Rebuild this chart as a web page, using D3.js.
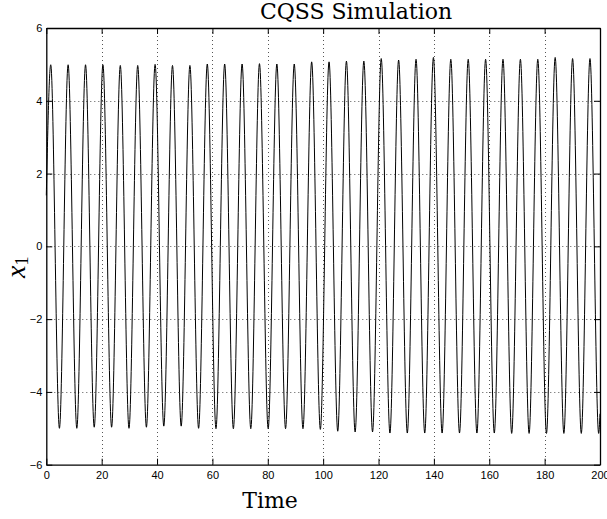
<!DOCTYPE html>
<html>
<head>
<meta charset="utf-8">
<script src="https://cdn.jsdelivr.net/npm/d3@7"></script>
<style>
  body { margin: 0; background: #fff; }
  svg { display: block; }
</style>
</head>
<body>
<svg id="chart"></svg>
<script>
// values
const startPoint = [0, 1.4];
const endPoint = [200, -4.6];

const peakTimes = [1.6, 7.88, 14.17, 20.45, 26.73, 33.02, 39.3, 45.58, 51.87, 58.15, 64.43,
  70.72, 77.0, 83.28, 89.56, 95.85, 102.13, 108.41, 114.7, 120.98, 127.26, 133.55,
  139.83, 146.11, 152.4, 158.68, 164.96, 171.25, 177.53, 183.81, 190.1, 196.38];
const peakValues = [4.99, 4.99, 4.99, 4.99, 4.97, 4.97, 5.0, 4.97, 4.97, 5.01, 5.01,
  5.01, 5.02, 5.01, 5.01, 5.07, 5.07, 5.09, 5.09, 5.16, 5.12, 5.14,
  5.19, 5.14, 5.14, 5.14, 5.14, 5.14, 5.14, 5.19, 5.16, 5.16];

const troughTimes = [4.74, 11.02, 17.31, 23.59, 29.87, 36.16, 42.44, 48.72, 55.01, 61.29, 67.57,
  73.86, 80.14, 86.42, 92.71, 98.99, 105.27, 111.55, 117.84, 124.12, 130.4, 136.69,
  142.97, 149.25, 155.54, 161.82, 168.1, 174.39, 180.67, 186.95, 193.24, 199.52];
const troughValues = [-5.0, -5.0, -4.97, -4.97, -5.0, -4.97, -4.94, -4.94, -5.0, -5.01, -5.01,
  -5.01, -5.01, -5.01, -5.01, -5.03, -5.08, -5.1, -5.1, -5.13, -5.13, -5.13,
  -5.13, -5.13, -5.13, -5.13, -5.14, -5.14, -5.14, -5.14, -5.14, -5.14];

const xTicks = [0, 20, 40, 60, 80, 100, 120, 140, 160, 180, 200];
const yTicks = [-6, -4, -2, 0, 2, 4, 6];

const W = 607, H = 519;
const margin = { left: 46.3, right: 7, top: 28, bottom: 54.3 };

const svg = d3.select('#chart')
  .attr('width', W)
  .attr('height', H);

const x = d3.scaleLinear().domain([0, 200]).range([margin.left, W - margin.right]);
const y = d3.scaleLinear().domain([-6, 6]).range([H - margin.bottom, margin.top]);

// build the point list from the extrema
let pts = [startPoint];
peakTimes.forEach((t, i) => pts.push([t, peakValues[i]]));
troughTimes.forEach((t, i) => pts.push([t, troughValues[i]]));
pts.push(endPoint);
pts.sort((a, b) => a[0] - b[0]);

// grid
const grid = svg.append('g').attr('stroke', '#555').attr('stroke-width', 1)
  .attr('stroke-dasharray', '1,3');
grid.selectAll('.vg')
  .data(xTicks.slice(1, -1))
  .enter().append('line')
  .attr('x1', d => Math.round(x(d)) + 0.5).attr('x2', d => Math.round(x(d)) + 0.5)
  .attr('y1', y(6)).attr('y2', y(-6));
grid.selectAll('.hg')
  .data(yTicks.slice(1, -1))
  .enter().append('line')
  .attr('x1', x(0)).attr('x2', x(200))
  .attr('y1', d => Math.round(y(d)) + 0.5).attr('y2', d => Math.round(y(d)) + 0.5);

// signal
svg.append('path')
  .datum(pts)
  .attr('fill', 'none')
  .attr('stroke', '#000')
  .attr('stroke-width', 1)
  .attr('d', d3.line().x(d => x(d[0])).y(d => y(d[1])).curve(d3.curveMonotoneX));

// axes, ticks inside on all four sides
const tickLen = 6;
const fmt = d => d < 0 ? '\u2212' + Math.abs(d) : String(d);

const axBottom = svg.append('g').attr('transform', `translate(0,${y(-6)})`)
  .call(d3.axisBottom(x).tickValues(xTicks).tickSizeInner(-tickLen).tickSizeOuter(0).tickPadding(7).tickFormat(fmt));
const axTop = svg.append('g').attr('transform', `translate(0,${y(6)})`)
  .call(d3.axisTop(x).tickValues(xTicks).tickSizeInner(-tickLen).tickSizeOuter(0).tickFormat(''));
const axLeft = svg.append('g').attr('transform', `translate(${x(0)},0)`)
  .call(d3.axisLeft(y).tickValues(yTicks).tickSizeInner(-tickLen).tickSizeOuter(0).tickPadding(4).tickFormat(fmt));
const axRight = svg.append('g').attr('transform', `translate(${x(200)},0)`)
  .call(d3.axisRight(y).tickValues(yTicks).tickSizeInner(-tickLen).tickSizeOuter(0).tickFormat(''));

[axBottom, axTop, axLeft, axRight].forEach(g => {
  g.select('.domain').attr('stroke', '#000').attr('stroke-width', 1.3);
  g.selectAll('.tick line').attr('stroke', '#000').attr('stroke-width', 1);
  g.selectAll('text').attr('fill', '#000')
    .attr('font-family', 'Liberation Sans, Arial, sans-serif').attr('font-size', 11);
});

// title and labels
svg.append('text')
  .attr('x', 356).attr('y', 19)
  .attr('text-anchor', 'middle')
  .attr('font-family', 'DejaVu Serif, serif')
  .attr('font-size', 22)
  .text('CQSS Simulation');

svg.append('text')
  .attr('x', 270).attr('y', 508)
  .attr('text-anchor', 'middle')
  .attr('font-family', 'DejaVu Serif, serif')
  .attr('font-size', 22)
  .text('Time');

const ylab = svg.append('text')
  .attr('transform', 'translate(25,278) rotate(-90)')
  .attr('text-anchor', 'start')
  .attr('font-family', 'Liberation Serif, serif')
  .attr('font-size', 28);
ylab.append('tspan').attr('font-style', 'italic').text('x');
ylab.append('tspan').attr('font-size', 18).attr('dy', 3).text('1');
</script>
</body>
</html>
